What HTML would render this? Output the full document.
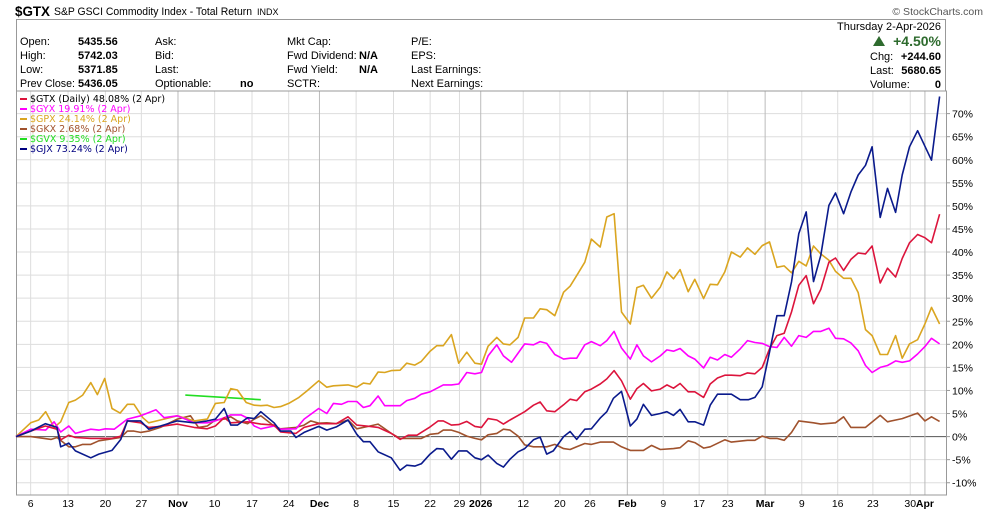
<!DOCTYPE html>
<html><head><meta charset="utf-8">
<style>
body{margin:0;background:#fff;width:990px;height:511px;overflow:hidden;font-family:"Liberation Sans",sans-serif;}
svg{position:absolute;left:0;top:0}
</style></head>
<body>
<svg id="chart" width="990" height="511" xmlns="http://www.w3.org/2000/svg"></svg>
<script>
const tickLabels=["6","13","20","27","Nov","10","17","24","Dec","8","15","22","29","2026","12","20","26","Feb","9","17","23","Mar","9","16","23","30","Apr"];
const tickDays=[2,7.1,12.2,17.1,22.1,27.1,32.2,37.2,41.4,46.4,51.5,56.5,60.5,63.4,69.2,74.2,78.3,83.4,88.3,93.2,97.1,102.2,107.2,112.1,116.9,122,124];
const tickMajor=[0,0,0,0,1,0,0,0,1,0,0,0,0,1,0,0,0,1,0,0,0,1,0,0,0,0,1];
const yTicks=[-10,-5,0,5,10,15,20,25,30,35,40,45,50,55,60,65,70];

const gjxDays=[0,2,4,5.6,6.1,7.2,8.1,10.2,11.3,13.1,14.3,15.2,17,18.1,19.7,22,24.3,26.1,27.2,28.4,29.3,30.2,31.6,32.5,33.4,35.2,36.1,37.5,38.2,39.3,41.3,42.4,43.7,45.3,46.5,47.4,48.3,49.4,51.2,52.4,53.3,54.4,55.3,56.5,57.4,58.3,59.4,60.4,61.5,62.6,63.5,64.4,65.6,66.5,67.4,68.5,69.4,70.6,71.5,72.4,73.3,74.7,75.6,76.5,77.6,78.5,79.7,80.6,81.5,82.6,83.8,84.7,85.6,86.7,87.9,88.8,89.7,90.6,91.7,92.6,93.8,94.7,95.7,96.7,97.6,98.8,99.9,100.8,101.8,102.8,103.8,104.8,105.8,106.8,107.8,108.8,109.8,110.9,111.8,112.9,113.9,114.9,115.9,116.8,117.9,118.9,120,120.9,121.9,123,124.9,126];
const gjxVals=[0,1.2,2.8,2.0,-2.2,-1.4,-3.1,-4.6,-3.8,-3.0,-0.6,3.4,3.4,1.6,2.3,3.4,3.0,3.4,3.8,6.1,2.5,2.5,4.1,3.9,5.4,3.0,1.2,1.2,-0.2,0.9,2.2,1.4,2.1,3.6,0.5,-1.1,-1.1,-3.3,-4.6,-7.3,-6.2,-6.4,-5.9,-3.8,-2.6,-2.7,-4.9,-3.1,-3.1,-4.6,-5.0,-4.0,-5.8,-6.6,-4.9,-3.3,-2.6,-0.7,-0.1,-3.8,-3.1,0,1.1,-0.6,1.6,1.7,4.0,5.4,8.3,9.8,2.3,3.8,7.0,4.6,5.0,5.4,4.6,5.9,3.2,3.2,2.5,6.8,9.2,9.2,9.2,8.0,8.0,8.5,10.8,18.3,26.2,26.2,33.5,44,48.7,33.6,39.3,50.1,52.8,48.3,53,56.7,58.8,62.8,47.5,53.8,48.6,56.7,62.8,66.3,59.9,73.7];

const gtxDays=[0,2,4,5.6,6.1,7.2,8.1,10.2,13.1,14.3,15.2,17,18.1,19.7,22,24.3,26.1,27.2,28.4,29.3,31.6,33.4,35.2,36.1,38.2,39.3,41.3,43.7,45.3,46.5,48.3,49.4,51.2,52.4,53.5,54.7,55.3,56.5,57.6,58.3,59.4,60.4,61.5,62.6,63.5,64.4,65.6,66.5,67.4,68.5,69.4,70.6,71.5,72.4,73.5,74.7,75.6,76.5,77.6,78.5,79.7,80.6,81.6,82.6,83.8,84.7,85.6,86.7,87.9,88.8,89.7,90.6,91.7,92.6,93.8,94.7,95.7,96.7,97.6,98.8,99.8,100.8,101.8,102.8,103.8,104.8,105.8,106.8,107.8,108.8,109.8,110.9,111.8,112.9,113.9,114.9,115.9,116.8,117.9,118.9,120,120.9,121.9,123,124,124.9,126];
const gtxVals=[0,1.2,2.3,1.6,-0.7,0.3,-0.2,-0.4,-0.4,0.1,3.4,3.0,2.0,2.2,2.7,2.0,1.7,2.3,4.1,3.0,3.2,2.7,2.5,1.0,0.7,2.0,2.8,2.8,4.3,2.5,2.2,2.0,0.7,-0.6,0.3,0.3,0.9,2.1,3.4,3.4,2.5,2.6,3.3,2.2,2.0,3.9,3.6,2.7,3.6,4.6,5.4,6.8,7.5,5.6,5.4,6.9,8.1,7.8,9.7,10.3,11.4,12.5,14.3,12.1,8.1,10.4,11.5,9.9,10.3,11.2,10.5,11.5,9.7,9.7,8.5,11.4,12.7,13.3,13.3,13.2,13.8,13.6,15,19,21.9,22.4,27,32.8,34.9,28.8,31.9,37.8,38.7,36,38.4,39.8,39.6,41.3,33.3,36.5,34.6,38.6,42,43.8,43.1,42,48.2];

const gpxDays=[0,2,3.1,4.05,5.2,6.1,7.2,8.1,9.1,10.2,11.1,12.1,13.1,14.2,15.2,16.1,17.3,18.1,19.7,22,24.3,26.1,27.2,28.4,29.3,30.2,31.4,32.5,33.4,34.3,35.2,36.1,37.2,38.6,39.7,41.3,42.4,43.3,45.3,46.5,47.4,48.3,49.4,50.3,51.2,52.4,53.3,54.4,55.3,56.5,57.4,58.3,59.4,60.4,61.5,62.6,63.5,64.4,65.6,66.5,67.4,68.5,69.4,70.6,71.5,72.4,73.5,74.7,75.6,76.5,77.6,78.5,79.7,80.6,81.6,82.6,83.8,84.7,85.6,86.7,87.9,88.8,89.7,90.6,91.7,92.6,93.8,94.7,95.7,96.7,97.6,98.8,99.8,100.8,101.8,102.8,103.8,104.8,105.8,106.8,107.8,108.8,109.8,110.9,111.8,112.9,113.9,114.9,115.9,116.8,117.9,118.9,120,120.9,121.9,123,124,124.9,126];
const gpxVals=[0,3,3.6,5.4,2,3.2,7.4,7.9,9,11.7,9.1,12.6,6.1,5.1,7,7,4.1,3,3.6,4.5,3.4,3.8,7.2,7.4,10.4,10.1,7.4,6.8,6.7,6.8,6.3,6.5,7.2,8.5,9.9,12.1,10.7,11,11.2,10.7,11.6,11.4,14,13.9,14.3,14.4,15.9,15.5,16.3,18.5,19.7,19.7,22.1,15.9,18.3,15.9,15.7,19.6,21.5,20.1,19.9,21.5,25.7,25.7,27.7,27.5,26.2,31.3,32.6,34.9,37.8,42.8,41.1,47.6,48.3,27,24.4,32.3,32.8,30,32.4,35.7,34.2,36.2,31.4,34.1,29.9,33,32.9,35.7,40,38.9,40.9,39.5,41.4,42.2,36.7,37,35.5,38,37,41.3,39.6,38.2,35.8,34.3,34.3,31.2,23.2,21.9,17.8,17.8,21.9,17,20.1,21,24.4,28,24.4];

const gyxDays=[0,2,4.05,5.2,6.1,7.2,8.1,10.2,11.3,12.2,13.4,15.2,17,18.1,19.1,20.2,22,24.3,26.1,27.2,28.4,29.3,30.7,31.6,32.5,33.4,35.2,36.1,38.2,39.3,41.3,42.4,43.3,44.4,45.3,46.5,47.4,48.3,49.4,50.3,52.4,53.3,54.4,55.3,56.5,58.3,59.4,60.4,61.5,62.6,63.5,64.4,65.6,66.5,67.6,68.5,69.4,70.6,71.5,72.4,73.5,74.7,75.6,76.5,77.6,78.5,79.7,80.6,81.6,82.6,83.8,84.7,85.6,86.7,87.9,88.8,89.7,90.6,91.7,92.6,93.8,94.7,95.7,96.7,97.6,98.8,99.8,100.8,101.8,102.8,103.8,104.8,105.8,106.8,107.8,108.8,109.8,110.9,111.8,112.9,113.9,114.9,115.9,116.8,117.9,118.9,120,120.9,121.9,123,124,124.9,126];
const gyxVals=[0,1.6,1.4,3.2,1,2.3,0.7,1.6,1.4,1.7,1.6,3.8,4.5,5.2,5.8,4.1,4.5,3,3,3.4,4.1,4.7,4.7,4,2.3,1.7,2.3,1.6,1.7,3.8,6.1,5,7.2,7,7.6,7.6,6.3,6.7,8.8,6.7,6.7,7.8,8.3,9.2,9.7,11.2,11.2,11.4,13.9,13.6,13.9,17.5,19.9,17.5,16.1,18.1,20.1,19.9,20.6,20.2,17.8,16.8,17,17,19.9,20.6,19.7,20.8,22.8,19.2,16.8,19.9,17.5,16.2,17.5,18.8,18.5,19.1,17.5,16.8,14.9,17.2,16.6,17.8,17.2,19,20.8,20.4,20.2,19.5,19.3,21.5,19.6,21.9,21.5,22.8,22.8,23.5,21.3,21.2,20.3,18.6,15.4,13.9,15,15.4,16.4,16.1,16.4,17.9,19.5,21.3,20.1];

const gkxDays=[0,2,4.8,5.6,7.2,8.1,9.1,10.2,11.3,12.2,14.3,15.2,16.1,17,18.1,19.7,22,23.8,24.9,26.1,27.2,28.4,29.3,30.2,31.6,32.5,33.4,35.2,36.1,38.2,39.3,40.2,41.3,42.4,43.7,45.3,46.5,48.3,49.4,51.2,52.4,53.5,55.3,56.5,57.6,58.3,59.4,60.4,61.5,62.6,63.5,64.4,65.6,66.5,67.4,68.5,69.4,70.6,71.5,72.4,73.5,74.7,75.6,76.5,77.6,78.5,79.7,81.5,82.6,83.8,85.6,86.7,87.9,89.7,90.6,91.7,92.6,93.8,94.7,96.7,97.6,99.8,100.8,101.8,102.8,103.8,104.8,105.8,106.8,108.8,109.8,111.8,112.9,113.9,115.9,117.9,118.9,120.9,123,124,124.9,126];
const gkxVals=[0,0,-0.6,-0.2,-2.2,-2.2,-1.7,-1.7,-0.9,-0.7,-0.2,1.2,1.2,0.9,1.2,2,3.8,4.5,2,2.3,3.6,3.8,4.3,3.4,2.8,3.8,4.5,2.3,1.7,2,2.5,3.4,2.9,3,2.8,3.6,1.7,2.3,2.7,0.7,-0.4,-0.4,-0.4,0.5,0.7,1.4,1.4,0.9,0.1,-0.4,-0.7,0.4,0.7,1.6,1.4,0.1,-1.8,-2.2,-2.2,-2.2,-1.7,-2.6,-2.8,-2.2,-1.5,-1.7,-1.2,-1.2,-2.2,-3,-3,-1.9,-2.8,-2.6,-2.4,-0.9,-1.3,-2.5,-2.2,-0.7,-1.2,-0.8,-0.8,0.1,-0.4,-0.4,-0.8,0.9,3.4,3.0,2.7,3,4.3,2,2,4.6,3.2,3.9,5.1,3.4,4.3,3.3,2.9];

const gvxDays=[23.1,33.4];
const gvxVals=[9.0,8.0];

const NS="http://www.w3.org/2000/svg";
const svg=document.getElementById('chart');
const L=16,R=946,T=91,B=495;
function xs(d){return 16+d*7.33;}
function ys(p){return 436.6-p*4.614;}
function mk(tag,attrs,parent){const e=document.createElementNS(NS,tag);for(const k in attrs)e.setAttribute(k,attrs[k]);(parent||svg).appendChild(e);return e;}
function txt(x,y,s,attrs,parent){const e=mk('text',Object.assign({x:x,y:y},attrs),parent);e.textContent=s;return e;}

// header
const hdr=mk('g',{});


let t=txt(15,16,'$GTX',{'font-size':'14','font-weight':'bold',fill:'#000',textLength:'35',lengthAdjust:'spacingAndGlyphs'},hdr);

t=txt(54,15,'S&P GSCI Commodity Index - Total Return',{'font-size':'11',fill:'#000',textLength:'198',lengthAdjust:'spacingAndGlyphs'},hdr);

txt(257,15,'INDX',{'font-size':'9',fill:'#000'},hdr);
t=txt(983,15,'© StockCharts.com',{'font-size':'10.5',fill:'#555','text-anchor':'end'},hdr);

mk('rect',{x:16.5,y:19.5,width:929,height:71.5,fill:'none',stroke:'#999'},hdr);
const rows=[["Open:","5435.56","Ask:","","Mkt Cap:","","P/E:"],["High:","5742.03","Bid:","","Fwd Dividend:","N/A","EPS:"],["Low:","5371.85","Last:","","Fwd Yield:","N/A","Last Earnings:"],["Prev Close:","5436.05","Optionable:","no","SCTR:","","Next Earnings:"]];
rows.forEach((r,i)=>{const y=45+i*14;
 const lb=txt(20,y,r[0],{'font-size':'11'},hdr);
 if(i===3){lb.setAttribute('textLength','55');lb.setAttribute('lengthAdjust','spacingAndGlyphs');}
 txt(78,y,r[1],{'font-size':'11','font-weight':'bold'},hdr);
 txt(155,y,r[2],{'font-size':'11'},hdr);txt(240,y,r[3],{'font-size':'11','font-weight':'bold'},hdr);
 txt(287,y,r[4],{'font-size':'11'},hdr);txt(359,y,r[5],{'font-size':'11','font-weight':'bold'},hdr);
 txt(411,y,r[6],{'font-size':'11'},hdr);});
txt(941,30,'Thursday  2-Apr-2026',{'font-size':'11','text-anchor':'end'},hdr);
mk('polygon',{points:'873,46 879,36 885,46',fill:'#2e6b2e'},hdr);
t=txt(941,46,'+4.50%',{'font-size':'14','font-weight':'bold',fill:'#2e6b2e','text-anchor':'end'},hdr);

txt(870,60,'Chg:',{'font-size':'11'},hdr);txt(941,60,'+244.60',{'font-size':'11','font-weight':'bold','text-anchor':'end'},hdr);
txt(870,74,'Last:',{'font-size':'11'},hdr);txt(941,74,'5680.65',{'font-size':'11','font-weight':'bold','text-anchor':'end'},hdr);
txt(870,88,'Volume:',{'font-size':'11'},hdr);txt(941,88,'0',{'font-size':'11','font-weight':'bold','text-anchor':'end'},hdr);

// grid
const grid=mk('g',{});


yTicks.forEach(v=>{const y=ys(v);
 mk('line',{x1:L,x2:R,y1:y,y2:y,stroke:v===0?'#555':'#ddd','stroke-width':1},grid);
 mk('line',{x1:R,x2:R+4,y1:y,y2:y,stroke:'#999'},grid);
 const lb=txt(R+6,y+4,v+'%',{'font-size':'10.5',fill:'#000'},grid);
 
 });
tickDays.forEach((d,i)=>{const x=xs(d);
 mk('line',{x1:x,x2:x,y1:T,y2:B,stroke:tickMajor[i]?'#bbb':'#ddd','stroke-width':1},grid);
 const lb=txt(x,507,tickLabels[i],{'font-size':'10.5','text-anchor':'middle','font-weight':tickMajor[i]?'bold':'normal'},grid);
 
 });
mk('rect',{x:L+0.5,y:T,width:R-L,height:B-T,fill:'none',stroke:'#999'},grid);

// series
const series=[['gvx',gvxDays,gvxVals,'#22dd22'],['gkx',gkxDays,gkxVals,'#a0522d'],['gpx',gpxDays,gpxVals,'#daa520'],['gyx',gyxDays,gyxVals,'#ff00ff'],['gtx',gtxDays,gtxVals,'#dc143c'],['gjx',gjxDays,gjxVals,'#0a1a8c']];
series.forEach(s=>{const pts=s[1].map((d,i)=>xs(d).toFixed(1)+','+ys(s[2][i]).toFixed(1)).join(' ');
 const pl=mk('polyline',{points:pts,fill:'none',stroke:s[3],'stroke-width':1.6,'stroke-linejoin':'round'});
 
 });

// legend
const leg=[['$GTX (Daily) 48.08% (2 Apr)','#000','#dc143c'],['$GYX 19.91% (2 Apr)','#ff00ff','#ff00ff'],['$GPX 24.14% (2 Apr)','#daa520','#daa520'],['$GKX 2.68% (2 Apr)','#a0522d','#a0522d'],['$GVX 9.35% (2 Apr)','#22dd22','#22dd22'],['$GJX 73.24% (2 Apr)','#000080','#000080']];
leg.forEach((l,i)=>{const y=102+i*10;
 const g=mk('g',{});
 
 
 mk('rect',{x:20,y:y-4,width:7,height:2,fill:l[2]},g);
 txt(30,y,l[0],{'font-size':'9.5','font-family':'DejaVu Sans, sans-serif',fill:l[1]},g);});
</script>
</body></html>
